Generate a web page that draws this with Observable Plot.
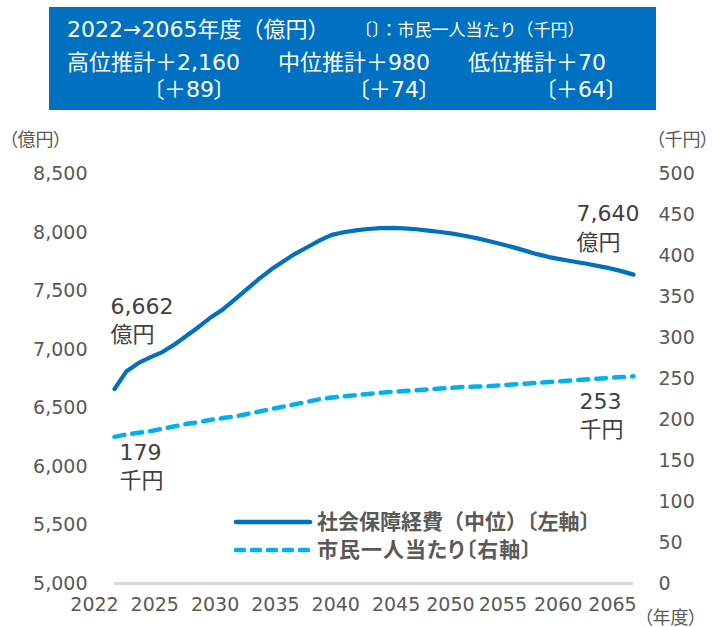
<!DOCTYPE html>
<html>
<head>
<meta charset="utf-8">
<script src="https://cdn.jsdelivr.net/npm/d3@7"></script>
<script src="https://cdn.jsdelivr.net/npm/@observablehq/plot@0.6"></script>
<style>
  body { margin: 0; background: #fff; }
  #wrap { position: relative; width: 714px; height: 627px; overflow: hidden;
          font-family: "DejaVu Sans", "Noto Sans CJK JP", sans-serif; font-feature-settings: "palt"; }
  #header { position: absolute; left: 49px; top: 7px; width: 607px; height: 103px; background: #0070C0; color: #fff; }
  .h { position: absolute; white-space: nowrap; line-height: 1; transform: translateY(-50%); }
  .r { transform: translate(-100%, -50%); }
  .np { font-feature-settings: normal; }
  #chart { position: absolute; left: 0; top: 115px; }
  .lg { position: absolute; white-space: nowrap; line-height: 1; transform: translateY(-50%);
        font-weight: bold; font-size: 21px; color: #595959; }
  .ls { position: absolute; }
</style>
</head>
<body>
<div id="wrap">
  <div id="header"></div>
  <div id="chart"></div>
  <svg class="ls" style="left:233px;top:515px" width="80" height="44">
    <line x1="3" x2="77" y1="7" y2="7" stroke="#0070C0" stroke-width="4.5" stroke-linecap="round"/>
    <line x1="3" x2="77" y1="35" y2="35" stroke="#00B0F0" stroke-width="4.5" stroke-linecap="round" stroke-dasharray="8,8"/>
  </svg>
  <div id="legend"></div>
</div>
<script>
// ---- data ----
const years = [2022,2023,2024,2025,2026,2027,2028,2029,2030,2031,2032,2033,2034,2035,2036,2037,2038,2039,2040,2041,2042,2043,2044,2045,2046,2047,2048,2049,2050,2051,2052,2053,2054,2055,2056,2057,2058,2059,2060,2061,2062,2063,2064,2065];
// 社会保障経費（中位）億円 — left axis
const socialSecurityCost = [6662,6815,6885,6935,6980,7045,7120,7195,7276,7345,7430,7518,7605,7685,7755,7820,7876,7932,7980,8002,8018,8030,8037,8040,8036,8028,8016,8004,7990,7972,7952,7928,7902,7875,7845,7815,7790,7770,7752,7735,7715,7695,7670,7640];
// 市民一人当たり 千円 — right axis
const perCapita = [179,182,184,186,189,192,195,197,200,202,204,207,210,213,216,219,222,225,227,228.5,230,231.5,233,234,235,236,237,238,239,240,240.5,241,242,243,244,245,246,247,248,249,250,251,252,253];
const leftTicks = [5000,5500,6000,6500,7000,7500,8000,8500];
const rightTicks = [0,50,100,150,200,250,300,350,400,450,500];
const xTicks = [2022,2025,2030,2035,2040,2045,2050,2055,2060,2065];
const headerTitle = "2022→2065年度（億円）";
const headerNote = "〔〕：市民一人当たり（千円）";
const scenarios = ["高位推計＋2,160", "中位推計＋980", "低位推計＋70"];
const scenarioPerCap = ["〔＋89〕", "〔＋74〕", "〔＋64〕"];
const legendLabels = ["社会保障経費（中位）〔左軸〕", "市民一人当たり〔右軸〕"];

// ---- header ----
const header = document.getElementById("header");
function addH(text, left, cy, size, right, noPalt) {
  const s = document.createElement("span");
  s.className = "h" + (right ? " r" : "") + (noPalt ? " np" : "");
  s.textContent = text;
  s.style.left = left + "px";
  s.style.top = cy + "px";
  s.style.fontSize = size + "px";
  header.appendChild(s);
}
addH(headerTitle, 18, 23, 22, false, true);
addH(headerNote, 306, 23, 17, false, true);
const scLeft = [18, 229, 419];
const pcRight = [176, 381, 568];
scenarios.forEach((t, i) => addH(t, scLeft[i], 56, 22));
scenarioPerCap.forEach((t, i) => addH(t, pcRight[i], 83, 22, true));

// ---- legend ----
const legend = document.getElementById("legend");
legendLabels.forEach((t, i) => {
  const d = document.createElement("div");
  d.className = "lg" + (i === 0 ? " np" : "");
  d.textContent = t;
  d.style.left = "317px";
  d.style.top = (522 + i * 28) + "px";
  if (i === 1) d.style.letterSpacing = "1px";
  legend.appendChild(d);
});

// ---- chart ----
const rows = years.map((y, i) => ({year: y, cost: socialSecurityCost[i], perCap: perCapita[i]}));
const toLeft = v => 5000 + v * 7;   // right axis 0–500 onto left axis 5000–8500
const fmt = d3.format(",");
const font = '"DejaVu Sans", "Noto Sans CJK JP", sans-serif';
const gray = "#595959";
const dark = "#404040";

const chart = Plot.plot({
  width: 714,
  height: 512,
  marginLeft: 114,
  marginRight: 81,
  marginTop: 58.5,
  marginBottom: 44,
  x: {domain: [2022, 2065], label: null},
  y: {domain: [5000, 8500], label: null},
  style: {fontFamily: font, fontSize: "19px", color: gray, background: "transparent", overflow: "visible"},
  marks: [
    Plot.ruleY([5000], {stroke: "#d9d9d9", strokeWidth: 3}),
    Plot.axisY(leftTicks, {anchor: "left", tickSize: 0, tickPadding: 27, tickFormat: fmt, fill: gray, fontSize: 19, label: null}),
    Plot.text(rightTicks, {y: d => toLeft(d), frameAnchor: "right", dx: 25, textAnchor: "start", text: d => String(d), fill: gray, fontSize: 19}),
    Plot.axisX(xTicks.filter(d => d === 2022), {tickSize: 0, tickPadding: 14, tickFormat: d => String(d), dx: -20, fill: gray, fontSize: 19, label: null}),
    Plot.axisX(xTicks.filter(d => d > 2022 && d <= 2045), {tickSize: 0, tickPadding: 14, tickFormat: d => String(d), dx: 4, fill: gray, fontSize: 19, label: null}),
    Plot.axisX(xTicks.filter(d => d === 2050), {tickSize: 0, tickPadding: 14, tickFormat: d => String(d), dx: -2, fill: gray, fontSize: 19, label: null}),
    Plot.axisX(xTicks.filter(d => d === 2055), {tickSize: 0, tickPadding: 14, tickFormat: d => String(d), dx: -10, fill: gray, fontSize: 19, label: null}),
    Plot.axisX(xTicks.filter(d => d === 2060), {tickSize: 0, tickPadding: 14, tickFormat: d => String(d), dx: -15, fill: gray, fontSize: 19, label: null}),
    Plot.axisX(xTicks.filter(d => d === 2065), {tickSize: 0, tickPadding: 14, tickFormat: d => String(d), dx: -21, fill: gray, fontSize: 19, label: null}),
    Plot.text(["（億円）"], {frameAnchor: "top-left", dx: -106, dy: -33.5, textAnchor: "start", lineAnchor: "middle", fill: gray, fontSize: 18}),
    Plot.text(["（千円）"], {frameAnchor: "top-right", dx: 22, dy: -33.5, textAnchor: "start", lineAnchor: "middle", fill: gray, fontSize: 18}),
    Plot.text(["（年度）"], {frameAnchor: "bottom-right", dx: 37, dy: 35, textAnchor: "middle", lineAnchor: "middle", fill: gray, fontSize: 18}),
    Plot.line(rows, {x: "year", y: "cost", stroke: "#0070C0", strokeWidth: 4.2, strokeLinejoin: "round", strokeLinecap: "round"}),
    Plot.line(rows, {x: "year", y: d => toLeft(d.perCap), stroke: "#00B0F0", strokeWidth: 4.5, strokeDasharray: "10,8", strokeLinecap: "round"}),
    Plot.text([rows[0]], {x: "year", y: "cost", text: d => fmt(d.cost) + "\n億円", textAnchor: "start", dx: -4, dy: -70, lineHeight: 1.3, fontSize: 22, fill: dark}),
    Plot.text([rows[rows.length - 1]], {x: "year", y: "cost", text: d => fmt(d.cost) + "\n億円", textAnchor: "start", dx: -57, dy: -48, lineHeight: 1.3, fontSize: 22, fill: dark}),
    Plot.text([rows[0]], {x: "year", y: d => toLeft(d.perCap), text: d => d.perCap + "\n千円", textAnchor: "start", dx: 5, dy: 28, lineHeight: 1.3, fontSize: 22, fill: dark}),
    Plot.text([rows[rows.length - 1]], {x: "year", y: d => toLeft(d.perCap), text: d => d.perCap + "\n千円", textAnchor: "start", dx: -54, dy: 37.5, lineHeight: 1.3, fontSize: 22, fill: dark})
  ]
});
document.getElementById("chart").appendChild(chart);
</script>
</body>
</html>
